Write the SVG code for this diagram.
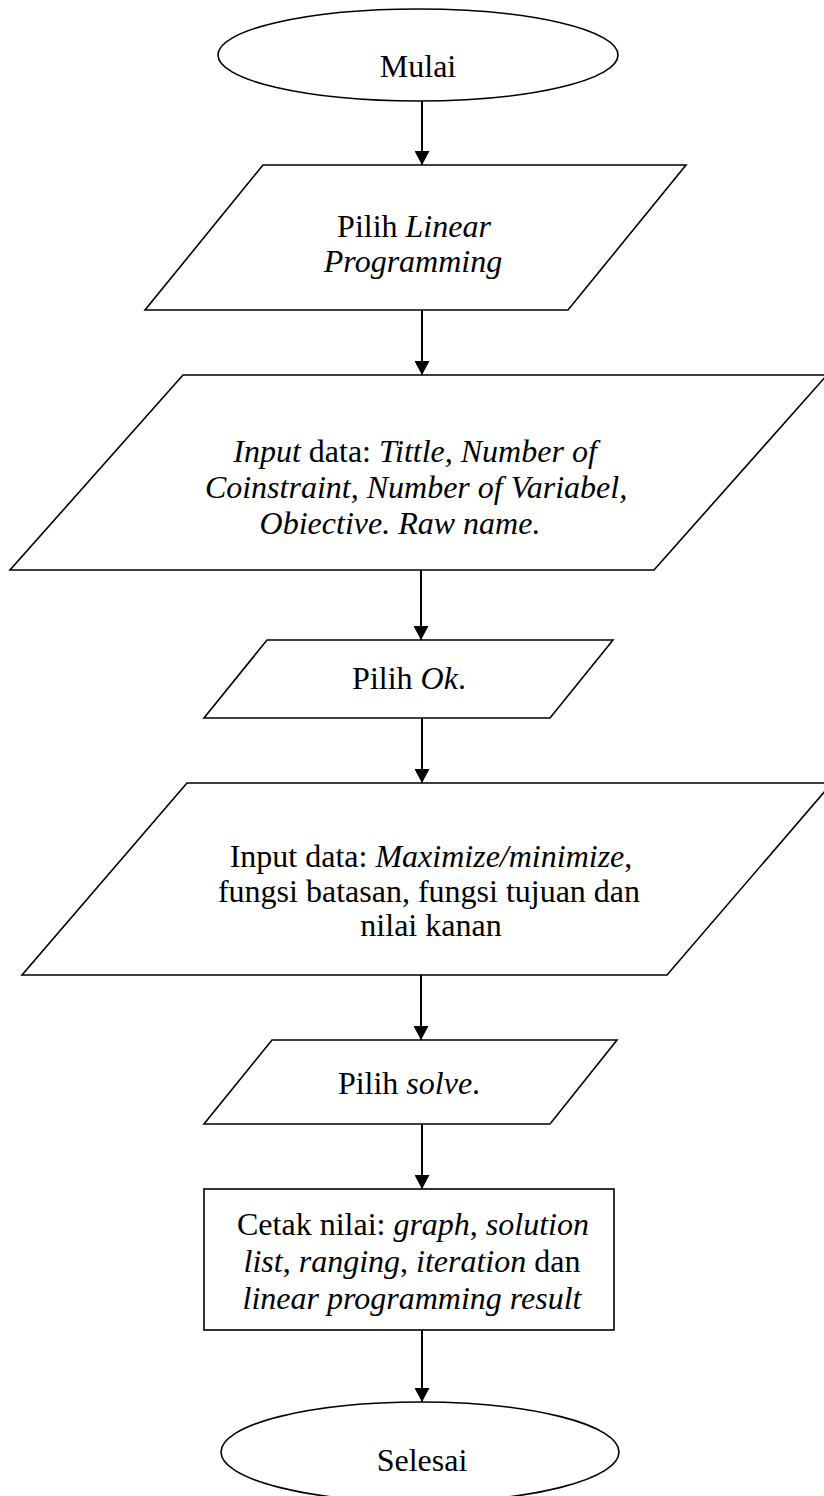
<svg xmlns="http://www.w3.org/2000/svg" width="824" height="1496" viewBox="0 0 824 1496">
<style>
.shape{fill:#fff;stroke:#000;stroke-width:1.6}
.t{font-family:"Liberation Serif","Times New Roman",serif;font-size:32px;fill:#000;text-anchor:middle}
.i{font-style:italic}
.conn{stroke:#000;stroke-width:2;fill:none}
</style>
<defs>
<marker id="arr" markerUnits="userSpaceOnUse" viewBox="0 0 14 15" refX="14" refY="7.5" markerWidth="14" markerHeight="15" orient="auto">
<path d="M0,0 L14,7.5 L0,15 z" fill="#000"/>
</marker>
</defs>
<rect width="824" height="1496" fill="#fff"/>
<g id="connectors">
<line class="conn" x1="422" y1="100" x2="422" y2="165" marker-end="url(#arr)"/>
<line class="conn" x1="422" y1="310" x2="422" y2="375" marker-end="url(#arr)"/>
<line class="conn" x1="421" y1="570" x2="421" y2="640" marker-end="url(#arr)"/>
<line class="conn" x1="422" y1="718" x2="422" y2="783" marker-end="url(#arr)"/>
<line class="conn" x1="421" y1="975" x2="421" y2="1040" marker-end="url(#arr)"/>
<line class="conn" x1="422" y1="1124" x2="422" y2="1189" marker-end="url(#arr)"/>
<line class="conn" x1="422" y1="1330" x2="422" y2="1402" marker-end="url(#arr)"/>
</g>
<g id="mulai">
<ellipse class="shape" cx="418" cy="55" rx="200" ry="46"/>
<text class="t" x="418" y="77">Mulai</text>
</g>
<g id="pilih-lp">
<polygon class="shape" points="263,165 686,165 568,310 145,310"/>
<text class="t" x="414" y="237">Pilih <tspan class="i">Linear</tspan></text>
<text class="t i" x="413" y="272">Programming</text>
</g>
<g id="input-data-1">
<polygon class="shape" points="183,375 827,375 654,570 10,570"/>
<text class="t" x="415" y="462"><tspan class="i">Input</tspan> data: <tspan class="i">Tittle, Number of</tspan></text>
<text class="t i" x="416" y="498">Coinstraint, Number of Variabel,</text>
<text class="t i" x="400" y="534">Obiective. Raw name.</text>
</g>
<g id="pilih-ok">
<polygon class="shape" points="267,640 613,640 550,718 204,718"/>
<text class="t" x="409" y="689">Pilih <tspan class="i">Ok</tspan>.</text>
</g>
<g id="input-data-2">
<polygon class="shape" points="187,783 832,783 667,975 22,975"/>
<text class="t" x="431" y="867">Input data: <tspan class="i">Maximize/minimize</tspan>,</text>
<text class="t" x="429" y="902">fungsi batasan, fungsi tujuan dan</text>
<text class="t" x="431" y="936">nilai kanan</text>
</g>
<g id="pilih-solve">
<polygon class="shape" points="272,1040 617,1040 550,1124 204,1124"/>
<text class="t" x="409" y="1094">Pilih <tspan class="i">solve</tspan>.</text>
</g>
<g id="cetak">
<rect class="shape" x="204" y="1189" width="410" height="141"/>
<text class="t" x="413" y="1235">Cetak nilai: <tspan class="i">graph</tspan>, <tspan class="i">solution</tspan></text>
<text class="t" x="412" y="1272"><tspan class="i">list</tspan>, <tspan class="i">ranging</tspan>, <tspan class="i">iteration</tspan> dan</text>
<text class="t i" x="412" y="1309">linear programming result</text>
</g>
<g id="selesai">
<ellipse class="shape" cx="420" cy="1452" rx="199" ry="50"/>
<text class="t" x="422" y="1471">Selesai</text>
</g>
</svg>
